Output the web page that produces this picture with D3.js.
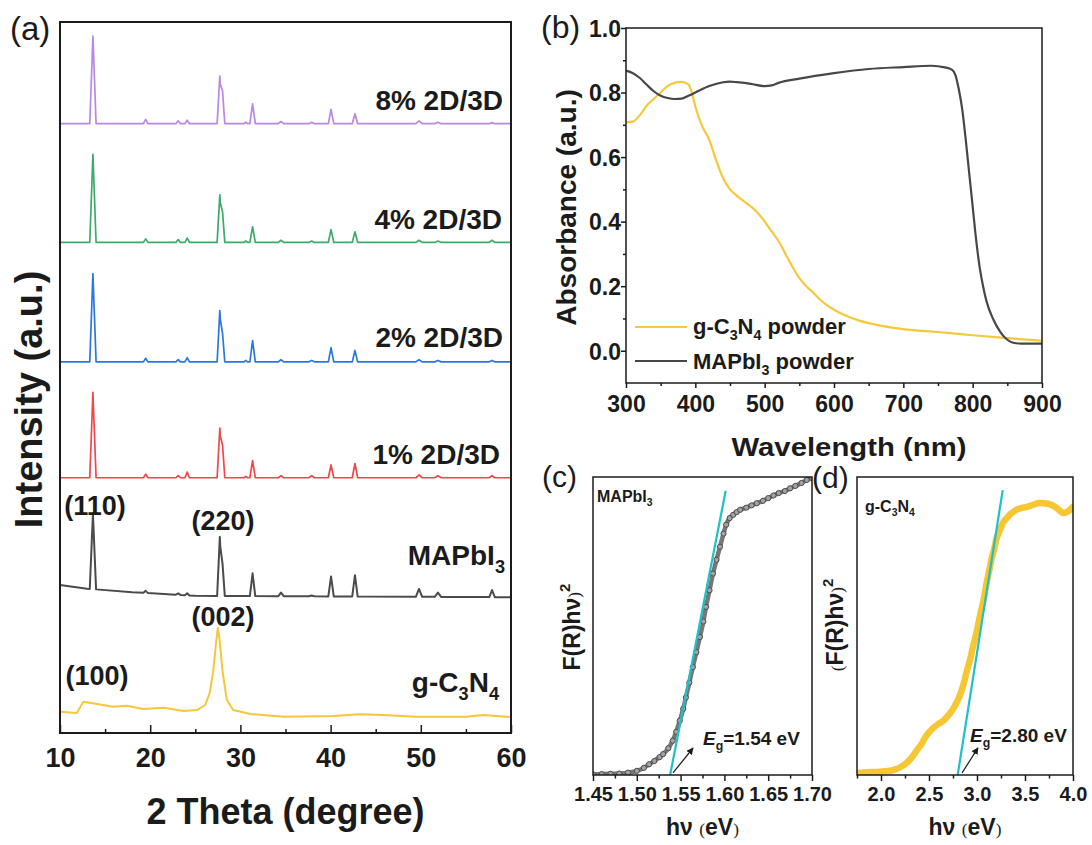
<!DOCTYPE html>
<html>
<head>
<meta charset="utf-8">
<script src="https://cdn.jsdelivr.net/npm/d3@7"></script>
<style>
  body { margin: 0; background: #fff; }
  svg { display: block; font-family: "Liberation Sans", Arial, sans-serif; }
</style>
</head>
<body>
<div id="chart"></div>
<script>
// ---------- data ----------
// (a) XRD patterns, stacked (arbitrary intensity units 0-100 over the plot height)
const xrdNames = ["8% 2D/3D", "4% 2D/3D", "2% 2D/3D", "1% 2D/3D", "MAPbI3", "g-C3N4"];
const xrdColors = ["#b987e4", "#3caa6a", "#2b77e2", "#f0474b", "#4b4b4b", "#f5c73a"];
const xrdOffsets = [85.7, 69.0, 52.2, 35.9, 19.3, 0];
const peakPos   = [13.65, 19.5, 23.1, 24.1, 27.72, 28.02, 30.6, 31.35, 34.5, 37.9, 40.05, 42.7, 49.8, 51.9, 57.9];
const peakHalfW = [0.35, 0.25, 0.25, 0.25, 0.3, 0.25, 0.2, 0.3, 0.3, 0.3, 0.3, 0.3, 0.35, 0.35, 0.3];
const h8  = [12.3, 0.6, 0.4, 0.5, 6.7, 4.6, 0.2, 2.8, 0.3, 0.2, 2.0, 1.4, 0.4, 0.2, 0.15];
const h4  = [12.4, 0.5, 0.4, 0.6, 6.7, 4.3, 0.2, 2.2, 0.3, 0.2, 1.8, 1.5, 0.3, 0.2, 0.3];
const h2  = [12.4, 0.5, 0.3, 0.6, 7.2, 4.0, 0.2, 3.0, 0.3, 0.2, 2.0, 1.6, 0.3, 0.2, 0.2];
const h1  = [12.0, 0.5, 0.3, 0.8, 7.0, 4.6, 0.2, 2.4, 0.3, 0.3, 1.8, 2.0, 0.4, 0.3, 0.3];
const hMA = [10.6, 0.3, 0.2, 0.3, 8.3, 4.5, 0.0, 3.2, 0.5, 0.1, 2.8, 3.0, 1.1, 0.6, 1.0];
const flatBase = [[10, 0], [60, 0]];
const baseMA = [[10, 1.5], [13, 1.0], [18, 0.5], [25, 0.0], [60, -0.2]];
// g-C3N4 is broad, read point by point
const gcnTheta = [10, 11.85, 12.6, 14.1, 15.9, 17.4, 19.2, 21.5, 23.7, 25.2, 26.1, 26.6, 27.0, 27.3, 27.5, 27.7, 28.0, 28.5, 29.2, 31.1, 34.8, 40.3, 43.3, 45.8, 49.5, 55.1, 56.9, 59.9];
const gcnInt   = [3.0, 2.81, 4.4, 4.08, 3.7, 3.84, 3.38, 3.56, 3.09, 3.23, 3.94, 5.63, 8.86, 12.66, 14.77, 13.08, 8.86, 4.64, 3.23, 2.67, 2.29, 2.39, 2.63, 2.53, 2.29, 2.29, 2.53, 2.25];
const peakLabels = ["(110)", "(220)", "(002)", "(100)"];

// (b) absorbance
const wlG  = [300, 310, 320, 330, 340, 350, 360, 370, 380, 390, 395, 400, 410, 420, 430, 440, 450, 460, 470, 480, 490, 500, 510, 520, 530, 540, 550, 560, 570, 580, 600, 620, 640, 660, 700, 750, 800, 850, 900];
const absG = [0.708, 0.71, 0.73, 0.76, 0.78, 0.80, 0.82, 0.83, 0.833, 0.825, 0.80, 0.757, 0.695, 0.654, 0.59, 0.535, 0.50, 0.48, 0.463, 0.447, 0.427, 0.40, 0.37, 0.34, 0.30, 0.26, 0.225, 0.20, 0.18, 0.158, 0.127, 0.106, 0.091, 0.081, 0.067, 0.058, 0.048, 0.039, 0.031];
const wlM  = [300, 310, 320, 330, 340, 350, 360, 370, 380, 390, 400, 420, 440, 450, 460, 480, 500, 510, 520, 550, 600, 650, 700, 740, 760, 770, 775, 780, 785, 790, 795, 800, 805, 810, 815, 820, 830, 840, 850, 860, 870, 900];
const absM = [0.868, 0.86, 0.845, 0.824, 0.804, 0.79, 0.783, 0.78, 0.781, 0.79, 0.80, 0.82, 0.832, 0.834, 0.832, 0.827, 0.82, 0.822, 0.83, 0.843, 0.86, 0.873, 0.879, 0.883, 0.878, 0.871, 0.855, 0.81, 0.747, 0.654, 0.55, 0.447, 0.344, 0.26, 0.20, 0.153, 0.096, 0.058, 0.034, 0.024, 0.022, 0.022];

// (c) MAPbI3 Tauc plot (normalised)
const hvC = [1.450, 1.460, 1.470, 1.480, 1.490, 1.500, 1.508, 1.514, 1.520, 1.526, 1.530, 1.536, 1.541, 1.545, 1.549, 1.553, 1.556, 1.560, 1.564, 1.568, 1.572, 1.576, 1.579, 1.583, 1.587, 1.591, 1.595, 1.599, 1.602, 1.606, 1.610, 1.614, 1.618, 1.625, 1.631, 1.637, 1.644, 1.650, 1.656, 1.662, 1.669, 1.675, 1.681, 1.688, 1.694, 1.700];
const frC = [0.002, 0.003, 0.004, 0.005, 0.008, 0.014, 0.024, 0.036, 0.047, 0.060, 0.070, 0.090, 0.115, 0.145, 0.182, 0.222, 0.260, 0.310, 0.362, 0.412, 0.463, 0.515, 0.564, 0.620, 0.676, 0.722, 0.766, 0.810, 0.840, 0.862, 0.873, 0.882, 0.890, 0.897, 0.905, 0.912, 0.920, 0.929, 0.938, 0.946, 0.953, 0.962, 0.970, 0.980, 0.990, 0.997];
const fitCx = [1.538, 1.6015];
const fitCy = [0, 0.954];

// (d) g-C3N4 Tauc plot (normalised)
const hvD = [1.75, 1.85, 1.99, 2.05, 2.11, 2.16, 2.20, 2.25, 2.29, 2.33, 2.37, 2.42, 2.46, 2.50, 2.55, 2.60, 2.65, 2.70, 2.75, 2.79, 2.82, 2.86, 2.89, 2.93, 2.96, 3.00, 3.03, 3.07, 3.10, 3.13, 3.15, 3.18, 3.20, 3.24, 3.27, 3.31, 3.34, 3.38, 3.41, 3.47, 3.52, 3.58, 3.65, 3.70, 3.76, 3.80, 3.83, 3.87, 3.90, 3.95, 4.00];
const frD = [0.007, 0.009, 0.011, 0.013, 0.015, 0.020, 0.026, 0.036, 0.048, 0.063, 0.081, 0.103, 0.126, 0.143, 0.160, 0.172, 0.182, 0.200, 0.221, 0.245, 0.266, 0.305, 0.344, 0.390, 0.433, 0.485, 0.533, 0.590, 0.645, 0.690, 0.723, 0.760, 0.790, 0.822, 0.846, 0.862, 0.873, 0.883, 0.890, 0.896, 0.900, 0.906, 0.913, 0.912, 0.908, 0.902, 0.896, 0.885, 0.879, 0.885, 0.900];
const fitDx = [2.799, 3.268];
const fitDy = [0, 0.956];

// ---------- setup ----------
const width = 1092, height = 845;
const ink = "#1b1b1b";
const cyan = "#1fc1c8";

const svg = d3.select("#chart").append("svg")
  .attr("width", width)
  .attr("height", height);
svg.append("rect").attr("width", width).attr("height", height).attr("fill", "#fff");

const defs = svg.append("defs");
defs.append("marker")
  .attr("id", "arrow")
  .attr("viewBox", "0 0 10 10")
  .attr("refX", 9).attr("refY", 5)
  .attr("markerWidth", 7).attr("markerHeight", 7)
  .attr("markerUnits", "userSpaceOnUse")
  .attr("orient", "auto")
  .append("path").attr("d", "M0,0L10,5L0,10Z").attr("fill", ink);

// text with sub/superscripts, italic and serif pieces
function rich(g, x, y, parts, size, anchor) {
  const t = g.append("text")
    .attr("x", x).attr("y", y)
    .attr("font-size", size)
    .attr("font-weight", "bold")
    .attr("fill", ink)
    .attr("text-anchor", anchor || "start");
  let shift = 0;
  parts.forEach(p => {
    const part = typeof p === "string" ? { t: p } : p;
    const target = part.sub ? size * 0.28 : part.sup ? -size * 0.42 : 0;
    const ts = t.append("tspan").text(part.t).attr("dy", target - shift);
    if (part.sub || part.sup) ts.attr("font-size", size * 0.65);
    if (part.italic) ts.attr("font-style", "italic");
    if (part.serif) ts.attr("font-family", "'Liberation Serif', 'Times New Roman', serif")
      .attr("font-weight", "normal").attr("font-size", size * 0.75);
    shift = target;
  });
  return t;
}

function styleAxis(g, size) {
  g.select(".domain").remove();
  g.selectAll(".tick line").attr("stroke", ink).attr("stroke-width", 1.5);
  g.selectAll(".tick text")
    .attr("fill", ink)
    .attr("font-size", size)
    .attr("font-weight", "bold")
    .attr("font-family", "'Liberation Sans', Arial, sans-serif");
}

function panelLabel(x, y, s, size) {
  svg.append("text").attr("x", x).attr("y", y)
    .attr("font-size", size).attr("fill", ink).text(s);
}

// ---------- (a) XRD ----------
const A = { l: 60, r: 511, t: 22, b: 733 };
const xA = d3.scaleLinear().domain([10, 60]).range([A.l, A.r]);
const yA = d3.scaleLinear().domain([0, 100]).range([A.b, A.t]);

function xrdPoints(heights, knots) {
  const lvl = t => {
    for (let i = 1; i < knots.length; i++) {
      if (t <= knots[i][0]) {
        const [t0, v0] = knots[i - 1], [t1, v1] = knots[i];
        return v0 + (v1 - v0) * (t - t0) / (t1 - t0);
      }
    }
    return knots[knots.length - 1][1];
  };
  let ts = knots.map(k => k[0]);
  peakPos.forEach((p, i) => {
    if (heights[i] > 0) ts.push(p - peakHalfW[i], p, p + peakHalfW[i]);
  });
  ts = Array.from(new Set(ts)).sort((a, b) => a - b);
  return ts.map(t => {
    let h = 0;
    peakPos.forEach((p, i) => {
      h = Math.max(h, heights[i] * Math.max(0, 1 - Math.abs(t - p) / peakHalfW[i]));
    });
    return [t, lvl(t) + h];
  });
}

const xrdSeries = [
  xrdPoints(h8, flatBase),
  xrdPoints(h4, flatBase),
  xrdPoints(h2, flatBase),
  xrdPoints(h1, flatBase),
  xrdPoints(hMA, baseMA),
  gcnTheta.map((t, i) => [t, gcnInt[i]])
];

defs.append("clipPath").attr("id", "clipA")
  .append("rect").attr("x", A.l).attr("y", A.t).attr("width", A.r - A.l).attr("height", A.b - A.t);

const lineA = d3.line().x(d => xA(d[0]));
const gA = svg.append("g").attr("clip-path", "url(#clipA)");
xrdSeries.forEach((pts, i) => {
  gA.append("path")
    .datum(pts)
    .attr("d", lineA.y(d => yA(d[1] + xrdOffsets[i])))
    .attr("fill", "none")
    .attr("stroke", xrdColors[i])
    .attr("stroke-width", i >= 4 ? 2 : 1.7)
    .attr("stroke-linejoin", "round");
});

// axes (a): inward ticks on the bottom only
const axA = svg.append("g").attr("transform", `translate(0,${A.b})`)
  .call(d3.axisBottom(xA).tickValues(d3.range(10, 61, 10)).tickSize(-8).tickFormat(d3.format("d")));
styleAxis(axA, 27);
axA.selectAll(".tick text").attr("y", 34).attr("dy", 0);
const axAm = svg.append("g").attr("transform", `translate(0,${A.b})`)
  .call(d3.axisBottom(xA).tickValues(d3.range(15, 60, 10)).tickSize(-4).tickFormat(""));
styleAxis(axAm, 27);
svg.append("rect").attr("x", A.l).attr("y", A.t).attr("width", A.r - A.l).attr("height", A.b - A.t)
  .attr("fill", "none").attr("stroke", ink).attr("stroke-width", 2);

// series labels
const labA = svg.append("g");
const labY = [110, 229, 347, 464, 565, 692];
const labX = [503, 502, 503, 500, 505, 499];
rich(labA, labX[0], labY[0], [xrdNames[0]], 28, "end");
rich(labA, labX[1], labY[1], [xrdNames[1]], 28, "end");
rich(labA, labX[2], labY[2], [xrdNames[2]], 28, "end");
rich(labA, labX[3], labY[3], [xrdNames[3]], 28, "end");
rich(labA, labX[4], labY[4], ["MAPbI", { t: "3", sub: true }], 28, "end");
rich(labA, labX[5], labY[5], ["g-C", { t: "3", sub: true }, "N", { t: "4", sub: true }], 28, "end");
rich(labA, 95, 515, [peakLabels[0]], 27, "middle");
rich(labA, 223, 530, [peakLabels[1]], 27, "middle");
rich(labA, 223, 626, [peakLabels[2]], 27, "middle");
rich(labA, 97, 685, [peakLabels[3]], 27, "middle");

svg.append("text").attr("transform", `translate(42,${(A.t + A.b) / 2 + 22}) rotate(-90)`)
  .attr("text-anchor", "middle").attr("font-size", 38).attr("font-weight", "bold").attr("fill", ink)
  .text("Intensity (a.u.)");
svg.append("text").attr("x", (A.l + A.r) / 2).attr("y", 824)
  .attr("text-anchor", "middle").attr("font-size", 36).attr("font-weight", "bold").attr("fill", ink)
  .text("2 Theta (degree)");
panelLabel(10, 40, "(a)", 33);

// ---------- (b) absorbance ----------
const B = { l: 626, r: 1042, t: 28, b: 383 };
const xB = d3.scaleLinear().domain([300, 900]).range([B.l, B.r]);
const yB = d3.scaleLinear().domain([-0.1, 1.0]).range([B.b, B.t]);

const lineB = d3.line().x(d => xB(d[0])).y(d => yB(d[1])).curve(d3.curveMonotoneX);
svg.append("path").datum(wlG.map((w, i) => [w, absG[i]]))
  .attr("d", lineB).attr("fill", "none").attr("stroke", "#f6c83c").attr("stroke-width", 2.2);
svg.append("path").datum(wlM.map((w, i) => [w, absM[i]]))
  .attr("d", lineB).attr("fill", "none").attr("stroke", "#474747").attr("stroke-width", 2.2);

const axBx = svg.append("g").attr("transform", `translate(0,${B.b})`)
  .call(d3.axisBottom(xB).tickValues(d3.range(300, 901, 100)).tickSize(5).tickFormat(d3.format("d")));
styleAxis(axBx, 23);
axBx.selectAll(".tick text").attr("y", 29).attr("dy", 0);
const axBxm = svg.append("g").attr("transform", `translate(0,${B.b})`)
  .call(d3.axisBottom(xB).tickValues(d3.range(350, 900, 100)).tickSize(3).tickFormat(""));
styleAxis(axBxm, 23);
const axBy = svg.append("g").attr("transform", `translate(${B.l},0)`)
  .call(d3.axisLeft(yB).tickValues([0, 0.2, 0.4, 0.6, 0.8, 1.0]).tickSize(5).tickPadding(0).tickFormat(d3.format(".1f")));
styleAxis(axBy, 23);
axBy.selectAll(".tick text").attr("dy", "0.36em");
const axBym = svg.append("g").attr("transform", `translate(${B.l},0)`)
  .call(d3.axisLeft(yB).tickValues([0.1, 0.3, 0.5, 0.7, 0.9]).tickSize(3).tickFormat(""));
styleAxis(axBym, 23);
svg.append("rect").attr("x", B.l).attr("y", B.t).attr("width", B.r - B.l).attr("height", B.b - B.t)
  .attr("fill", "none").attr("stroke", ink).attr("stroke-width", 1.5);

// legend
const legB = svg.append("g");
legB.append("line").attr("x1", 635).attr("x2", 687).attr("y1", 327).attr("y2", 327)
  .attr("stroke", "#f6c83c").attr("stroke-width", 2.2);
legB.append("line").attr("x1", 635).attr("x2", 687).attr("y1", 361).attr("y2", 361)
  .attr("stroke", "#474747").attr("stroke-width", 2.2);
rich(legB, 693, 334, ["g-C", { t: "3", sub: true }, "N", { t: "4", sub: true }, " powder"], 22);
rich(legB, 693, 369, ["MAPbI", { t: "3", sub: true }, " powder"], 22);

svg.append("text").attr("transform", `translate(576,${(B.t + B.b) / 2 + 2}) rotate(-90)`)
  .attr("text-anchor", "middle").attr("font-size", 28).attr("font-weight", "bold").attr("fill", ink)
  .text("Absorbance (a.u.)");
svg.append("text").attr("x", 849).attr("y", 456)
  .attr("text-anchor", "middle").attr("font-size", 25).attr("font-weight", "bold").attr("fill", ink)
  .attr("textLength", 235).attr("lengthAdjust", "spacingAndGlyphs")
  .text("Wavelength (nm)");
panelLabel(541, 38, "(b)", 32);

// ---------- (c) and (d) Tauc plots ----------
function tauc(P, dom, hv, fr, fitX, fitY, color, majors, minors, fmt, dots) {
  const x = d3.scaleLinear().domain(dom).range([P.l, P.r]);
  const y = d3.scaleLinear().domain([0, 1]).range([P.b, P.t]);
  const id = "clip" + P.l;
  defs.append("clipPath").attr("id", id)
    .append("rect").attr("x", P.l).attr("y", P.t).attr("width", P.r - P.l).attr("height", P.b - P.t);
  const g = svg.append("g").attr("clip-path", `url(#${id})`);
  const pts = hv.map((h, i) => [h, fr[i]]);
  const line = d3.line().x(d => x(d[0])).y(d => y(d[1])).curve(d3.curveMonotoneX);
  g.append("path").datum(pts).attr("d", line)
    .attr("fill", "none").attr("stroke", color).attr("stroke-width", dots ? 4.5 : 6.5)
    .attr("stroke-linecap", "round");
  if (dots) {
    g.selectAll("circle.m").data(pts).join("circle")
      .attr("cx", d => x(d[0])).attr("cy", d => y(d[1])).attr("r", 2.6)
      .attr("fill", "#a3a3a3").attr("stroke", "#4d4d4d").attr("stroke-width", 1);
  }
  g.append("path").datum(fitX.map((v, i) => [v, fitY[i]]))
    .attr("d", d3.line().x(d => x(d[0])).y(d => y(d[1])))
    .attr("stroke", cyan).attr("stroke-width", 2.2).attr("fill", "none");

  const ax = svg.append("g").attr("transform", `translate(0,${P.b})`)
    .call(d3.axisBottom(x).tickValues(majors).tickSize(6).tickFormat(d3.format(fmt)));
  styleAxis(ax, 20);
  ax.selectAll(".tick text").attr("y", 26).attr("dy", 0);
  const axm = svg.append("g").attr("transform", `translate(0,${P.b})`)
    .call(d3.axisBottom(x).tickValues(minors).tickSize(3.5).tickFormat(""));
  styleAxis(axm, 20);
  svg.append("rect").attr("x", P.l).attr("y", P.t).attr("width", P.r - P.l).attr("height", P.b - P.t)
    .attr("fill", "none").attr("stroke", ink).attr("stroke-width", 1.5);
  return { x, y };
}

const C = { l: 593, r: 812, t: 477, b: 775 };
const sc = tauc(C, [1.45, 1.70], hvC, frC, fitCx, fitCy, "#777",
  [1.45, 1.50, 1.55, 1.60, 1.65, 1.70], [1.475, 1.525, 1.575, 1.625, 1.675], ".2f", true);
const D = { l: 857, r: 1073, t: 477, b: 775 };
const sd = tauc(D, [1.75, 4.0], hvD, frD, fitDx, fitDy, "#f6c633",
  [2.0, 2.5, 3.0, 3.5, 4.0], [1.75, 2.25, 2.75, 3.25, 3.75], ".1f", false);

// arrows + band-gap notes
svg.append("line")
  .attr("x1", sc.x(1.5413)).attr("y1", sc.y(0.007)).attr("x2", sc.x(1.5642)).attr("y2", sc.y(0.0906))
  .attr("stroke", ink).attr("stroke-width", 1.2).attr("marker-end", "url(#arrow)");
svg.append("line")
  .attr("x1", sd.x(2.844)).attr("y1", sd.y(0.007)).attr("x2", sd.x(3.010)).attr("y2", sd.y(0.091))
  .attr("stroke", ink).attr("stroke-width", 1.2).attr("marker-end", "url(#arrow)");
const notes = svg.append("g");
rich(notes, 703, 745, [{ t: "E", italic: true }, { t: "g", sub: true }, "=1.54 eV"], 19);
rich(notes, 970, 742, [{ t: "E", italic: true }, { t: "g", sub: true }, "=2.80 eV"], 19);
rich(notes, 597, 502, ["MAPbI", { t: "3", sub: true }], 16);
rich(notes, 865, 512, ["g-C", { t: "3", sub: true }, "N", { t: "4", sub: true }], 16);

// axis titles
const titles = svg.append("g");
rich(titles, (C.l + C.r) / 2, 835, ["h\u03bd ", { t: "(", serif: true }, "eV", { t: ")", serif: true }], 23, "middle");
rich(titles, (D.l + D.r) / 2, 835, ["h\u03bd ", { t: "(", serif: true }, "eV", { t: ")", serif: true }], 23, "middle");
const ytc = titles.append("g").attr("transform", "translate(580,627) rotate(-90)");
rich(ytc, 0, 0, ["F(R)h\u03bd", { t: ")", serif: true }, { t: "2", sup: true }], 23, "middle");
const ytd = titles.append("g").attr("transform", "translate(843,625) rotate(-90)");
rich(ytd, 0, 0, [{ t: "(", serif: true }, "F(R)h\u03bd", { t: ")", serif: true }, { t: "2", sup: true }], 23, "middle");

panelLabel(542, 487, "(c)", 30);
panelLabel(812, 488, "(d)", 30);
</script>
</body>
</html>
